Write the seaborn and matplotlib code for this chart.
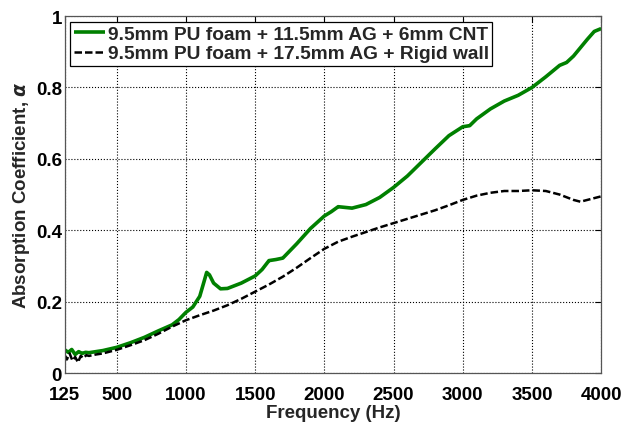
import pandas as pd
import seaborn as sns
import matplotlib.pyplot as plt

freq_cnt = [125, 150, 175, 200, 225, 250, 275, 300, 350, 400, 500, 600, 700, 800, 900, 950,
            1000, 1050, 1100, 1130, 1150, 1170, 1200, 1250, 1300, 1400, 1500, 1550, 1600, 1650,
            1700, 1800, 1900, 2000, 2050, 2100, 2200, 2300, 2400, 2500, 2600, 2700, 2800, 2900,
            3000, 3050, 3100, 3200, 3300, 3400, 3500, 3600, 3700, 3750, 3800, 3900, 3950, 4000]
alpha_cnt = [0.065, 0.058, 0.066, 0.052, 0.060, 0.055, 0.058, 0.057, 0.060, 0.063, 0.072, 0.085, 0.100, 0.118, 0.135, 0.150,
             0.170, 0.185, 0.215, 0.255, 0.282, 0.275, 0.252, 0.236, 0.237, 0.252, 0.272, 0.290, 0.315, 0.318,
             0.322, 0.362, 0.405, 0.440, 0.452, 0.466, 0.462, 0.472, 0.492, 0.520, 0.552, 0.590, 0.628, 0.665,
             0.690, 0.693, 0.712, 0.740, 0.762, 0.778, 0.800, 0.830, 0.862, 0.870, 0.888, 0.935, 0.957, 0.965]

freq_wall = [125, 140, 160, 180, 200, 220, 240, 260, 280, 300, 350, 400, 500, 600, 700, 800, 900,
             1000, 1100, 1200, 1300, 1400, 1500, 1600, 1700, 1800, 1900, 2000, 2100, 2200, 2300,
             2400, 2500, 2600, 2700, 2800, 2900, 3000, 3100, 3200, 3300, 3400, 3500, 3600, 3700,
             3800, 3850, 3900, 4000]
alpha_wall = [0.050, 0.038, 0.055, 0.035, 0.045, 0.030, 0.048, 0.042, 0.050, 0.048, 0.052, 0.055, 0.065, 0.078, 0.092, 0.110, 0.130,
              0.148, 0.162, 0.175, 0.190, 0.208, 0.228, 0.248, 0.270, 0.295, 0.322, 0.348, 0.368, 0.382, 0.395,
              0.408, 0.420, 0.432, 0.444, 0.456, 0.470, 0.485, 0.497, 0.505, 0.510, 0.510, 0.512, 0.510, 0.500,
              0.485, 0.480, 0.485, 0.495]

labels = ["9.5mm PU foam + 11.5mm AG + 6mm CNT", "9.5mm PU foam + 17.5mm AG + Rigid wall"]
x_ticks = [125, 500, 1000, 1500, 2000, 2500, 3000, 3500, 4000]
y_ticks = [0, 0.2, 0.4, 0.6, 0.8, 1]
y_tick_labels = ["0", "0.2", "0.4", "0.6", "0.8", "1"]

sns.set_style("white")
plt.rcParams["font.family"] = ["Liberation Sans", "DejaVu Sans"]
plt.rcParams["font.weight"] = "bold"

df = pd.concat([
    pd.DataFrame({"freq": freq_cnt, "alpha": alpha_cnt, "series": labels[0]}),
    pd.DataFrame({"freq": freq_wall, "alpha": alpha_wall, "series": labels[1]}),
])

fig = plt.figure(figsize=(6.23, 4.27), dpi=100)
ax = fig.add_axes([0.104, 0.124, 0.861, 0.836])
sns.lineplot(data=df, x="freq", y="alpha", hue="series", style="series",
             palette=["#008000", "black"], dashes=[(1, 0), (3, 1.2)],
             size="series", sizes=[2.6, 1.8], ax=ax, legend=False)

ax.set_xlim(125, 4000)
ax.set_ylim(0, 1)
ax.set_xticks(x_ticks)
ax.set_yticks(y_ticks)
ax.set_yticklabels(y_tick_labels)
ax.tick_params(direction="in", top=True, right=True, length=4, width=0.8,
               labelsize=13.5, colors="black")
ax.tick_params(axis="x", pad=9)
ax.tick_params(axis="y", pad=2)
for lbl in ax.get_xticklabels() + ax.get_yticklabels():
    lbl.set_fontweight("bold")
ax.grid(True, linestyle=":", color="black", linewidth=0.8)
for s in ax.spines.values():
    s.set_visible(True)
    s.set_color("#555555")
    s.set_linewidth(0.9)

ax.set_xlabel("Frequency (Hz)", fontsize=13.5, fontweight="bold", labelpad=1)
ax.set_ylabel("Absorption Coefficient, $\\alpha$", fontsize=13.5, fontweight="bold", labelpad=3)

handles = ax.get_lines()[:2]
leg = ax.legend(handles, labels, loc="upper left", bbox_to_anchor=(0.010, 0.984),
                prop={"size": 13.8, "weight": "bold"}, frameon=True, fancybox=False,
                framealpha=1, edgecolor="black", handlelength=1.6, handletextpad=0.15,
                borderpad=0.2, labelspacing=0.1, borderaxespad=0)
leg.get_frame().set_linewidth(0.9)

fig.savefig("out.png", dpi=100)
